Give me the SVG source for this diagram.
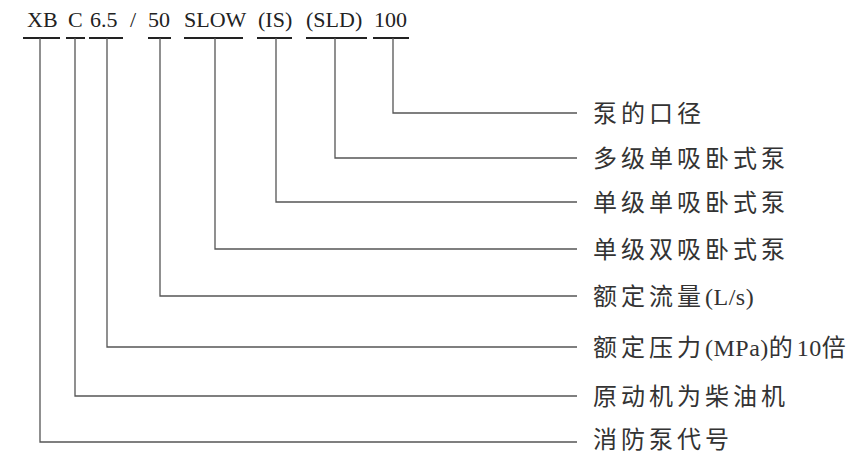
<svg xmlns="http://www.w3.org/2000/svg" width="860" height="454" viewBox="0 0 860 454">
<style>
.code{font-family:"Liberation Serif","Times New Roman",serif;font-size:22px;fill:#222}
.lbl{font-family:"Liberation Serif","Noto Sans CJK SC",serif;font-size:24px;fill:#333}
.cj{font-family:"Noto Sans CJK SC",sans-serif;letter-spacing:4px}
.la{font-family:"Liberation Serif",serif;font-size:24px;letter-spacing:0.5px}
.ul{stroke:#222;stroke-width:2;fill:none}
.ld{stroke:#555;stroke-width:1.3;fill:none}
</style>
<rect width="860" height="454" fill="#fff"/>
<g id="code">
<text class="code" x="27" y="27">XB</text>
<text class="code" x="68" y="27">C</text>
<text class="code" x="90" y="27">6.5</text>
<text class="code" x="130" y="27">/</text>
<text class="code" x="148" y="27">50</text>
<text class="code" x="184" y="27">SLOW</text>
<text class="code" x="258" y="27">(IS)</text>
<text class="code" x="306" y="27">(SLD)</text>
<text class="code" x="374" y="27">100</text>
<path class="ul" d="M23 38H60M66 38H85M89 38H123M148 38H171M184 38H243M257 38H292M306 38H367M373 38H409"/>
</g>
<g id="connectors">
<path class="ld" d="M393 38V113H577"/>
<path class="ld" d="M335 38V158H577"/>
<path class="ld" d="M276 38V202H577"/>
<path class="ld" d="M215 38V249H577"/>
<path class="ld" d="M160 38V296H577"/>
<path class="ld" d="M107 38V347H577"/>
<path class="ld" d="M75 38V396H577"/>
<path class="ld" d="M40 38V442H577"/>
</g>
<g id="n-100"><text class="lbl" x="593" y="121.5"><tspan class="cj">泵的口径</tspan></text></g>
<g id="n-sld"><text class="lbl" x="593" y="166.5"><tspan class="cj">多级单吸卧式泵</tspan></text></g>
<g id="n-is"><text class="lbl" x="593" y="210.5"><tspan class="cj">单级单吸卧式泵</tspan></text></g>
<g id="n-slow"><text class="lbl" x="593" y="257.5"><tspan class="cj">单级双吸卧式泵</tspan></text></g>
<g id="n-50"><text class="lbl" x="593" y="304.5"><tspan class="cj">额定流量</tspan><tspan class="la">(L/s)</tspan></text></g>
<g id="n-65"><text class="lbl" x="593" y="355.5"><tspan class="cj">额定压力</tspan><tspan class="la">(MPa)</tspan><tspan class="cj">的</tspan><tspan class="la">10</tspan><tspan class="cj">倍</tspan></text></g>
<g id="n-c"><text class="lbl" x="593" y="404.5"><tspan class="cj">原动机为柴油机</tspan></text></g>
<g id="n-xb"><text class="lbl" x="593" y="447.5"><tspan class="cj">消防泵代号</tspan></text></g>
</svg>
